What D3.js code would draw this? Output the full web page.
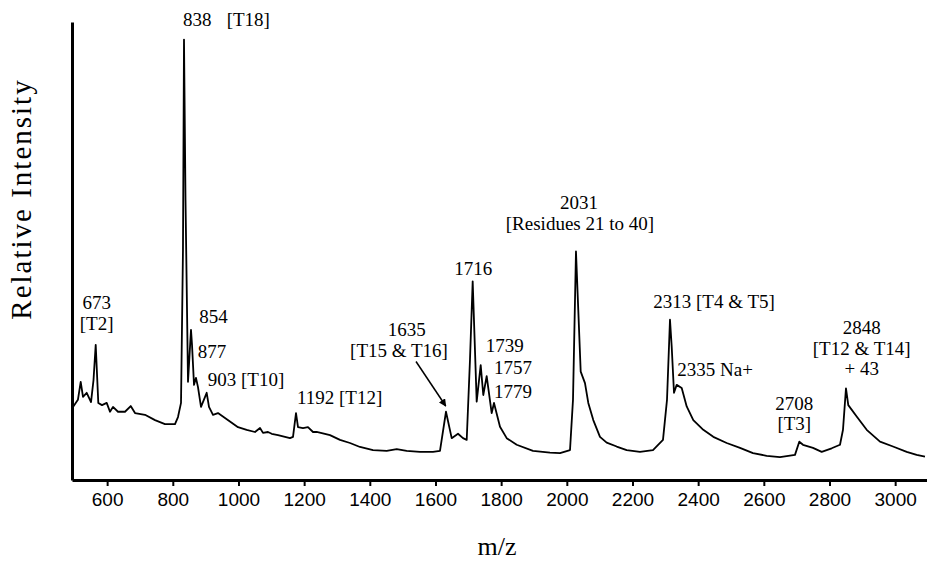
<!DOCTYPE html>
<meta charset="utf-8">
<title>MALDI spectrum</title>
<style>
  body { margin: 0; background: #fff; }
  svg { display: block; font-family: "Liberation Serif", "Times New Roman", serif; }
  .domain { stroke: #000; stroke-width: 3px; }
  .tick line { stroke: #000; stroke-width: 2px; }
  .tick text { font-size: 19px; fill: #000; }
  .lbl { font-size: 19px; fill: #000; }
</style>
<svg width="927" height="564"></svg>
<script src="https://cdn.jsdelivr.net/npm/d3@7/dist/d3.min.js"></script>
<script>
// spectrum: m/z and relative intensity
var mz = [496, 511, 519.5, 526.5, 537.8, 550.9, 558.5, 565.2, 573.1, 584.4,
  598.7, 608.7, 617.9, 633.1, 654.4, 671.8, 684.9, 715.3, 745.8, 776.2,
  806.7, 815.8, 825, 831, 834.1, 838.7, 846.3, 855.4, 858.5, 864.6,
  870.6, 876.7, 885.9, 903.2, 910.2, 922.4, 937.6, 959, 979.4, 998.6,
  1025, 1050.3, 1065.6, 1074.7, 1089.9, 1101.2, 1120.4, 1141.7, 1156.9, 1166.1,
  1175.2, 1181.3, 1196.5, 1211.7, 1227, 1238.2, 1278.7, 1309.2, 1339.6, 1370.1,
  1409.7, 1451.4, 1481.9, 1512.3, 1552.8, 1592.4, 1613.7, 1632, 1649.4, 1668.6,
  1683.8, 1695.1, 1705.1, 1713.3, 1725.5, 1737.7, 1745.6, 1755.9, 1771.2, 1778.2,
  1796.5, 1816.9, 1847.3, 1897, 1948.7, 1979.2, 2009.7, 2018.8, 2027.9, 2034.9,
  2042.3, 2055.3, 2065.4, 2080.6, 2101, 2121.4, 2151.9, 2182.3, 2222.8, 2262.4,
  2292.9, 2305.1, 2314.2, 2319.4, 2326.4, 2334.6, 2349.9, 2365.1, 2385.2, 2415.7,
  2446.1, 2486.9, 2527.4, 2567, 2608.7, 2649.2, 2694.9, 2708, 2719.3, 2749.7,
  2776.2, 2806.7, 2832, 2841.1, 2850.2, 2857.2, 2882.8, 2913.3, 2953.8, 2993.4,
  3035.1, 3065.5, 3090.8];
var intensity = [16.6, 18.2, 22.3, 18.9, 19.8, 17.7, 22.7, 30.7, 17.5, 17.0,
  17.5, 15.5, 16.6, 15.5, 15.5, 16.8, 15.2, 14.8, 13.6, 12.7,
  12.7, 14.3, 17.5, 52.3, 100, 63.6, 22.3, 34.1, 30.7, 21.6,
  23.2, 21.1, 16.6, 19.8, 16.6, 14.8, 15.2, 14.1, 13.0, 12.0,
  11.4, 10.9, 11.8, 10.7, 10.9, 10.5, 10.2, 9.8, 9.5, 9.8,
  15.2, 12.0, 11.8, 12.0, 10.9, 10.9, 10.2, 9.1, 8.4, 7.5,
  6.8, 6.6, 7.0, 6.6, 6.4, 6.4, 6.6, 15.5, 9.5, 10.5,
  9.5, 9.1, 27.3, 45.1, 17.8, 26.1, 19.3, 23.6, 15.2, 17.5,
  12.1, 9.5, 8.0, 6.6, 6.2, 6.1, 6.8, 18.2, 51.9, 38.6,
  24.6, 22.0, 17.5, 13.6, 9.8, 8.5, 7.6, 6.8, 6.4, 6.8,
  9.1, 18.2, 36.4, 30.3, 19.8, 21.6, 20.9, 16.7, 13.6, 11.4,
  9.8, 8.4, 7.3, 6.1, 5.5, 5.2, 5.7, 8.7, 8.0, 7.3,
  6.4, 7.2, 8.0, 11.4, 20.8, 17.0, 14.4, 11.4, 8.7, 7.6,
  6.4, 5.7, 5.3];

var xTicks = [600, 800, 1000, 1200, 1400, 1600, 1800, 2000, 2200, 2400, 2600, 2800, 3000];

// peak annotations: text, anchor m/z, anchor intensity, text-anchor
var labels = [
  ["838", 831, 103, "start"], ["[T18]", 964, 103, "start"],
  ["673", 568, 38.8, "middle"], ["[T2]", 568, 34.1, "middle"],
  ["854", 880.7, 35.7, "start"], ["877", 875.8, 27.8, "start"],
  ["903 [T10]", 906.3, 21.4, "start"],
  ["1192 [T12]", 1178.2, 17.3, "start"],
  ["1635", 1512.3, 32.7, "middle"], ["[T15 & T16]", 1488.9, 28.0, "middle"],
  ["1716", 1715.2, 46.5, "middle"],
  ["1739", 1753, 29.1, "start"], ["1757", 1778.2, 24.0, "start"], ["1779", 1778.2, 18.7, "start"],
  ["2031", 2037, 61.5, "middle"], ["[Residues 21 to 40]", 2040, 56.8, "middle"],
  ["2313 [T4 & T5]", 2263.4, 39.1, "start"],
  ["2335 Na+", 2336.4, 23.7, "start"],
  ["2708", 2692.8, 15.9, "middle"], ["[T3]", 2692.8, 11.4, "middle"],
  ["2848", 2898.1, 33.1, "middle"], ["[T12 & T14]", 2898.1, 28.4, "middle"], ["+ 43", 2898.1, 23.8, "middle"]
];
// arrow pointing at 1635
var arrowFrom = [1540.7, 26.9], arrowTo = [1631.2, 16.8];

var svg = d3.select("svg");

var x = d3.scaleLinear().domain([493, 3100]).range([72, 928]);
var y = d3.scaleLinear().domain([0, 104]).range([480, 22]);

svg.append("g")
  .attr("transform", "translate(0," + y(0) + ")")
  .call(d3.axisBottom(x).tickValues(xTicks).tickFormat(d3.format("d")).tickSize(6).tickSizeOuter(0).tickPadding(7));

svg.append("g")
  .attr("transform", "translate(" + x(493) + ",0)")
  .call(d3.axisLeft(y).tickValues([]).tickSizeOuter(0));

var pts = mz.map(function (m, i) { return [m, intensity[i]]; });

svg.append("path")
  .datum(pts)
  .attr("fill", "none")
  .attr("stroke", "#000")
  .attr("stroke-width", 1.8)
  .attr("stroke-linejoin", "round")
  .attr("d", d3.line().x(function (d) { return x(d[0]); }).y(function (d) { return y(d[1]); }));

svg.append("g").selectAll("text")
  .data(labels)
  .enter().append("text")
  .attr("class", "lbl")
  .attr("x", function (d) { return x(d[1]); })
  .attr("y", function (d) { return y(d[2]); })
  .attr("text-anchor", function (d) { return d[3]; })
  .text(function (d) { return d[0]; });

svg.append("defs").append("marker")
  .attr("id", "head")
  .attr("viewBox", "0 0 10 10")
  .attr("refX", 9).attr("refY", 5)
  .attr("markerWidth", 5).attr("markerHeight", 5)
  .attr("orient", "auto")
  .append("path").attr("d", "M0,0L10,5L0,10z").attr("fill", "#000");

svg.append("line")
  .attr("x1", x(arrowFrom[0])).attr("y1", y(arrowFrom[1]))
  .attr("x2", x(arrowTo[0])).attr("y2", y(arrowTo[1]))
  .attr("stroke", "#000").attr("stroke-width", 1.5)
  .attr("marker-end", "url(#head)");

svg.append("text")
  .attr("x", 497).attr("y", 555)
  .attr("text-anchor", "middle")
  .style("font-size", "26px")
  .text("m/z");

svg.append("text")
  .attr("transform", "translate(31,199) rotate(-90)")
  .attr("text-anchor", "middle")
  .style("font-size", "29px")
  .style("letter-spacing", "2px")
  .text("Relative Intensity");
</script>
